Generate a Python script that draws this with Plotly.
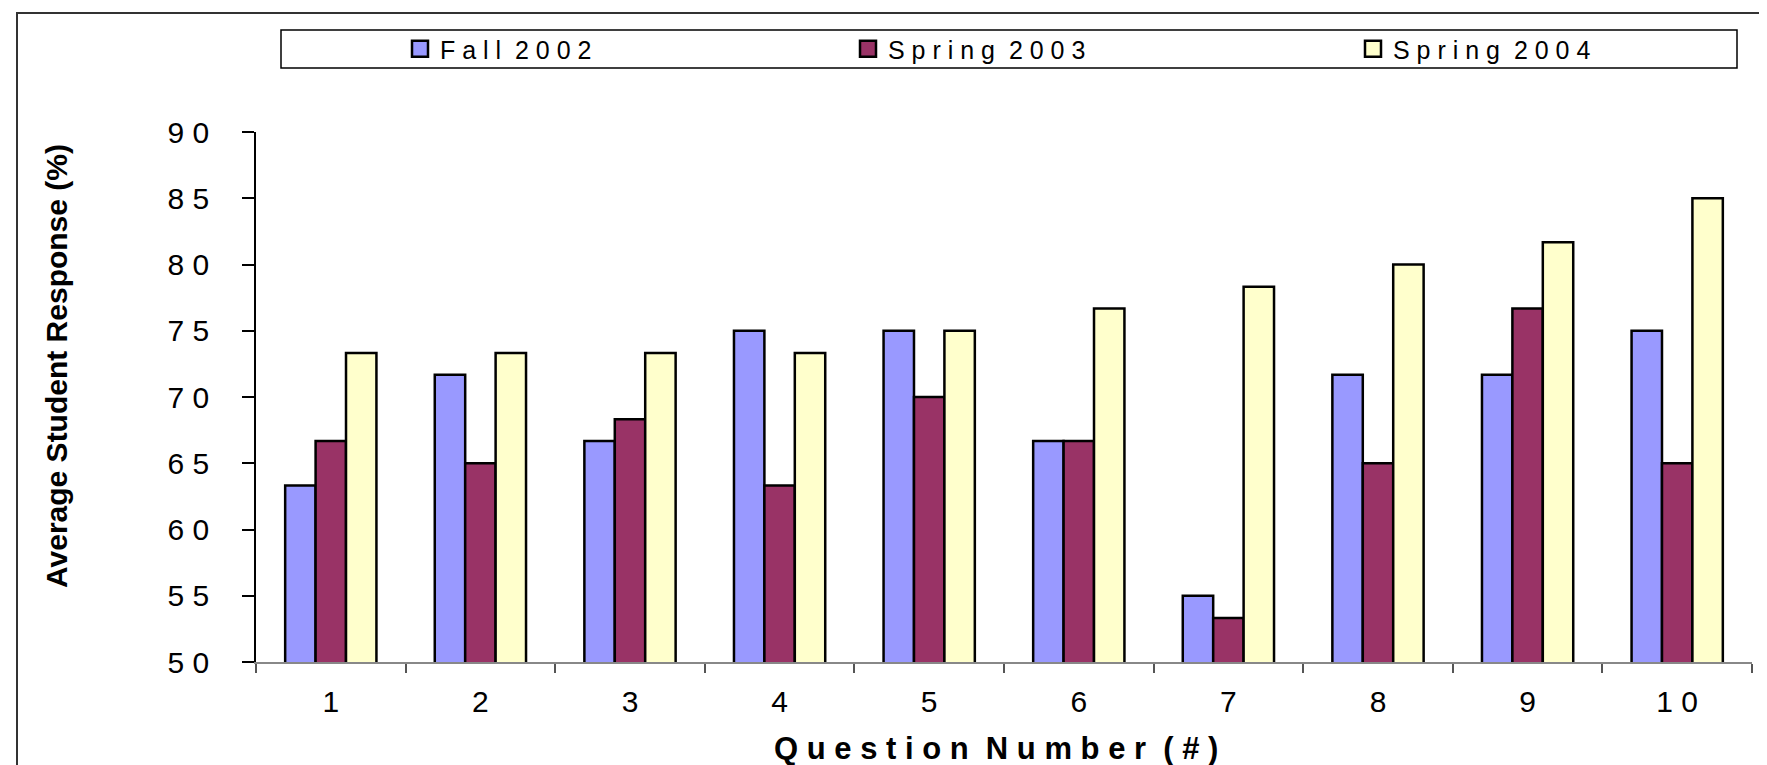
import plotly.graph_objects as go

# ---------------- data ----------------
questions = ["1", "2", "3", "4", "5", "6", "7", "8", "9", "10"]
fall_2002 = [63.33, 71.67, 66.67, 75.0, 75.0, 66.67, 55.0, 71.67, 71.67, 75.0]
spring_2003 = [66.67, 65.0, 68.33, 63.33, 70.0, 66.67, 53.33, 65.0, 76.67, 65.0]
spring_2004 = [73.33, 73.33, 73.33, 73.33, 75.0, 76.67, 78.33, 80.0, 81.67, 85.0]
series_names = ["Fall 2002", "Spring 2003", "Spring 2004"]
series_colors = ["#9999FF", "#993366", "#FFFFCC"]
y_ticks = [50, 55, 60, 65, 70, 75, 80, 85, 90]
x_title = "Question Number (#)"
y_title = "Average Student Response (%)"

NB = "\u00a0"


def spaced(s, word_gap=2):
    """Mimic the letter-spaced look of the original rendering."""
    return (NB * word_gap).join(NB.join(w) for w in s.split(" "))


FONT = "Liberation Sans, Arial, sans-serif"

# pixel geometry of the plot area (figure 1767 x 765)
L, R, T, B = 248, 23, 124, 111
W, H = 1767, 765
PW, PH = W - L - R, H - T - B


def px_x(x):
    return (x - L) / PW


def px_y(y):
    return (H - B - y) / PH


fig = go.Figure()
series_values = [fall_2002, spring_2003, spring_2004]
legend_ids = ["legend", "legend2", "legend3"]
for name, vals, col in zip(series_names, series_values, series_colors):
    fig.add_trace(go.Bar(
        x=questions, y=vals, name=name,
        marker=dict(color=col, line=dict(color="black", width=2.5)),
        showlegend=False,
    ))

# legend entries (square keys with a heavy outline, like the original)
for name, col, lg in zip(series_names, series_colors, legend_ids):
    fig.add_trace(go.Scatter(
        x=[None], y=[None], mode="markers", name=spaced(name),
        marker=dict(symbol="square", size=16, color=col,
                    line=dict(color="black", width=2.5)),
        legend=lg, showlegend=True, hoverinfo="skip",
    ))

legend_lefts = [392, 840, 1345]
legend_common = dict(orientation="h", yanchor="middle", xanchor="left",
                     y=px_y(41), bgcolor="rgba(0,0,0,0)",
                     font=dict(family=FONT, size=25, color="black"))
fig.update_layout(
    showlegend=True,
    legend=dict(x=px_x(legend_lefts[0]), **legend_common),
    legend2=dict(x=px_x(legend_lefts[1]), **legend_common),
    legend3=dict(x=px_x(legend_lefts[2]), **legend_common),
)

fig.update_layout(
    width=W, height=H,
    margin=dict(l=L, r=R, t=T, b=B),
    plot_bgcolor="white", paper_bgcolor="white",
    barmode="group", bargap=0.39, bargroupgap=0,
    font=dict(family=FONT, color="black"),
    xaxis=dict(
        type="category",
        tickvals=questions,
        ticktext=[spaced(q) for q in questions],
        tickson="boundaries",
        ticks="outside", ticklen=9, tickwidth=1.5, tickcolor="#555555",
        showline=True, linecolor="#888888", linewidth=2,
        showgrid=False, zeroline=False,
        tickfont=dict(family=FONT, size=30, color="black"),
        ticklabelstandoff=12,
    ),
    yaxis=dict(
        range=[50, 90],
        tickvals=y_ticks,
        ticktext=[spaced(str(v)) for v in y_ticks],
        ticks="outside", ticklen=12, tickwidth=1.5, tickcolor="black",
        showline=True, linecolor="black", linewidth=1.5,
        showgrid=False, zeroline=False,
        tickfont=dict(family=FONT, size=30, color="black"),
        ticklabelstandoff=27,
    ),
    shapes=[
        # outer chart border
        dict(type="rect", xref="paper", yref="paper",
             x0=px_x(9), x1=px_x(1763), y0=px_y(800), y1=px_y(5),
             line=dict(color="#333333", width=2), fillcolor="rgba(0,0,0,0)",
             layer="below"),
        # legend box
        dict(type="rect", xref="paper", yref="paper",
             x0=px_x(273), x1=px_x(1729), y0=px_y(60), y1=px_y(22),
             line=dict(color="black", width=1.5), fillcolor="rgba(0,0,0,0)",
             layer="below"),
    ],
    annotations=[
        dict(text=y_title, xref="paper", yref="paper",
             x=px_x(48), y=px_y(358), textangle=-90, showarrow=False,
             xanchor="center", yanchor="middle",
             font=dict(family=FONT, size=30, color="black", weight="bold")),
        dict(text=spaced(x_title), xref="paper", yref="paper",
             x=px_x(988), y=px_y(740), showarrow=False,
             xanchor="center", yanchor="middle",
             font=dict(family=FONT, size=31, color="black", weight="bold")),
    ],
)

fig.write_html("out.html")
